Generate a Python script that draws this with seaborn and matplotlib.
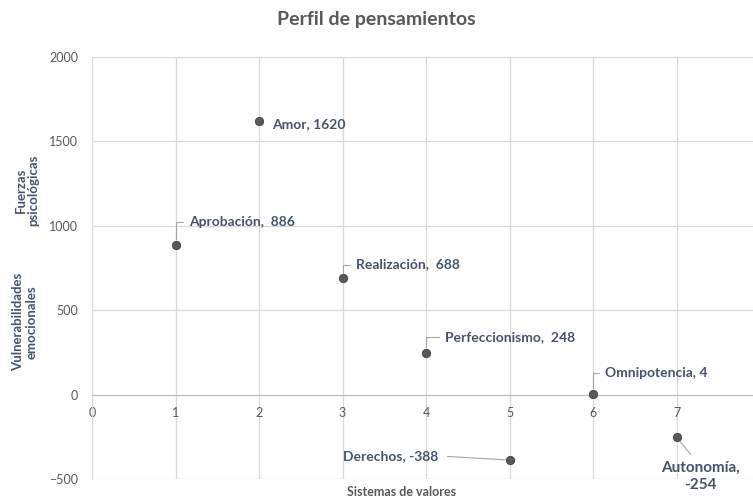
import matplotlib
matplotlib.use("Agg")
import matplotlib.pyplot as plt
import seaborn as sns
import pandas as pd

# data
sistemas = [1, 2, 3, 4, 5, 6, 7]
valores = [886, 1620, 688, 248, -388, 4, -254]
nombres = ["Aprobación", "Amor", "Realización", "Perfeccionismo",
           "Derechos", "Omnipotencia", "Autonomía"]
etiquetas = ["Aprobación,  886", "Amor, 1620", "Realización,  688",
             "Perfeccionismo,  248", "Derechos, -388", "Omnipotencia, 4",
             "Autonomía,\n-254"]
xticks = [0, 1, 2, 3, 4, 5, 6, 7]

# label placement (offset points) for each data label
offsets = [(10, 16.5), (9.5, -2), (9.5, 10), (13.5, 11), (-51, 3), (8.5, 15), (17, -28)]
aligns = ["left", "left", "left", "left", "right", "left", "center"]

df = pd.DataFrame({"x": sistemas, "y": valores, "nombre": nombres})

sns.set_style("white")
plt.rcParams["font.family"] = ["Lato", "DejaVu Sans"]

fig = plt.figure(figsize=(7.53, 4.99), dpi=100)
ax = fig.add_axes([92 / 753, 20 / 499, 668 / 753, 422 / 499])

sns.scatterplot(data=df, x="x", y="y", ax=ax, color="#595959",
                s=36, edgecolor="#404040", linewidth=0.6, zorder=3)

ax.set_xlim(0, 8)
ax.set_ylim(-500, 2000)
ax.set_xticks(xticks)
ax.set_yticks(range(-500, 2001, 500))
ax.grid(True, color="#d9d9d9", linewidth=0.9)
ax.set_axisbelow(True)

for s in ["top", "right"]:
    ax.spines[s].set_visible(False)
ax.spines["left"].set_color("#d9d9d9")
ax.spines["bottom"].set_position(("data", 0))
ax.spines["bottom"].set_color("#bfbfbf")
ax.tick_params(axis="y", length=4, color="#d9d9d9", pad=6,
               labelsize=9, labelcolor="#595959")
ax.tick_params(axis="x", length=0, pad=9, labelsize=9, labelcolor="#595959")
ax.set_xlabel("")
ax.set_ylabel("")

for i, (x, y) in enumerate(zip(sistemas, valores)):
    dx, dy = offsets[i]
    if i == 1:
        ax.annotate(etiquetas[i], (x, y), xytext=(dx, dy), textcoords="offset points",
                    ha=aligns[i], va="center", fontsize=10, fontweight="bold",
                    color="#44546a")
    elif i == 4:
        ax.annotate(etiquetas[i], (x, y), xytext=(dx, dy), textcoords="offset points",
                    ha=aligns[i], va="center", fontsize=10, fontweight="bold",
                    color="#44546a",
                    arrowprops=dict(arrowstyle="-", color="#a6a6a6", lw=0.8,
                                    shrinkA=4, shrinkB=3, relpos=(1, 0.5)))
    elif i == 6:
        ax.annotate(etiquetas[i], (x, y), xytext=(dx, dy), textcoords="offset points",
                    ha=aligns[i], va="center", fontsize=11, fontweight="bold",
                    color="#44546a", linespacing=1.25,
                    arrowprops=dict(arrowstyle="-", color="#a6a6a6", lw=0.8,
                                    shrinkA=3, shrinkB=4, relpos=(0.45, 1)))
    else:
        ax.annotate(etiquetas[i], (x, y), xytext=(dx, dy), textcoords="offset points",
                    ha=aligns[i], va="center", fontsize=10, fontweight="bold",
                    color="#44546a",
                    arrowprops=dict(arrowstyle="-", color="#a6a6a6", lw=0.8,
                                    shrinkA=2, shrinkB=4, relpos=(0, 0.5),
                                    connectionstyle="angle,angleA=0,angleB=90,rad=0"))

fig.text(376 / 753, 1 - 20 / 499, "Perfil de pensamientos", ha="center", va="center",
         fontsize=14, fontweight="bold", color="#595959")
fig.text(402 / 753, 1 - 492 / 499, "Sistemas de valores", ha="center", va="center",
         fontsize=9, fontweight="bold", color="#595959")
fig.text(27 / 753, 1 - 190 / 499, "Fuerzas\npsicológicas", ha="center", va="center",
         rotation=90, fontsize=9.5, fontweight="bold", color="#44546a", linespacing=1.1)
fig.text(25 / 753, 1 - 322 / 499, "Vulnerabilidades\nemocionales", ha="center", va="center",
         rotation=90, fontsize=9.5, fontweight="bold", color="#44546a", linespacing=1.1)

fig.savefig("out.png", dpi=100)
